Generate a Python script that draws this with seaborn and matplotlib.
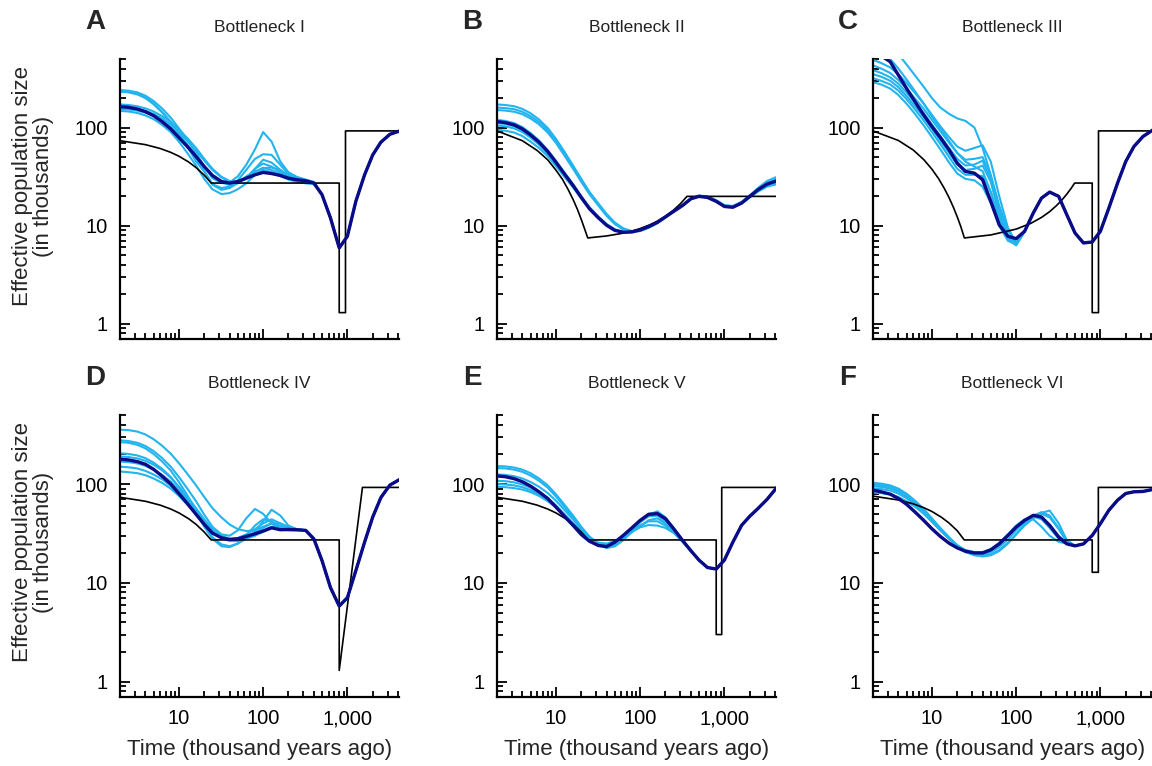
import numpy as np
import pandas as pd
import matplotlib
matplotlib.use("Agg")
import matplotlib.pyplot as plt
import seaborn as sns
from matplotlib.ticker import FixedLocator, LogLocator, NullFormatter

# ---------------- data ----------------
T = [2, 2.5, 3.2, 4, 5, 6.3, 8, 10, 12.6, 16, 20, 25, 32, 40, 50, 63, 80, 100,
     126, 160, 200, 250, 320, 400, 500, 630, 800, 1000, 1260, 1600, 2000, 2500,
     3200, 4200]

# true (simulated) histories
decl_t = [2, 4, 6, 8, 10, 13, 16, 20, 24.2]
decl_n = [73.5, 67, 61.2, 55.9, 51.1, 44.7, 39.1, 32.7, 27.2]

A_true_t = decl_t + [800, 800, 950, 950, 4200]
A_true_n = decl_n + [27.2, 1.3, 1.3, 92.5, 92.5]
B_true_t = [2, 4, 6, 8, 10, 12, 14, 16, 18, 20, 22, 23.9, 40, 60, 80, 100, 130,
            160, 200, 250, 300, 360, 4200]
B_true_n = [92.5, 73.5, 58.4, 46.9, 36.9, 29.6, 23.3, 18.5, 14.7, 11.6, 9.2, 7.5,
            7.86, 8.33, 8.82, 9.35, 10.2, 11.13, 12.5, 14.45, 16.7, 19.9, 19.9]
C_true_t = [2, 4, 6, 8, 10, 12, 14, 16, 18, 20, 22, 24.3, 50, 100, 150, 200, 250,
            300, 350, 400, 450, 495, 800, 800, 950, 950, 4200]
C_true_n = [92.5, 73.9, 59.1, 47.2, 37.7, 30.2, 24.1, 19.3, 15.4, 12.3, 9.84, 7.5,
            8.05, 9.23, 10.58, 12.14, 13.9, 15.97, 18.3, 21.0, 24.05, 27.2, 27.2,
            1.3, 1.3, 92.5, 92.5]
D_true_t = decl_t + [800, 800, 1510, 4200]
D_true_n = decl_n + [27.2, 1.3, 92.5, 92.5]
E_true_t = decl_t + [800, 800, 930, 930, 4200]
E_true_n = decl_n + [27.2, 3.0, 3.0, 92.5, 92.5]
F_true_t = decl_t + [800, 800, 946, 946, 4200]
F_true_n = [75.5, 69, 63.1, 57.7, 52.8, 46.1, 40.3, 33.7, 27.2] + [27.2, 12.8, 12.8, 92.5, 92.5]

# mean inferred histories (navy)
A_mean = [163.5, 161, 154.8, 145.4, 132.4, 115.1, 96.9, 79.1, 64.1, 50.7,
          40.1, 32.5, 28.2, 27.2, 28.2, 30.5, 33.0, 34.9, 34.0, 32.5,
          30.5, 29.4, 28.7, 27.2, 20.7, 12.0, 5.93, 7.8, 17.7, 33.0,
          52.7, 71, 85.5, 92.5]
B_mean = [115.1, 112.4, 106.4, 96.9, 84.2, 71.0, 57.0, 44.4, 33.8, 25.7,
          19.4, 14.9, 12.0, 10.1, 8.97, 8.56, 8.63, 9.04, 9.77, 10.8,
          12.3, 14.0, 16.1, 18.8, 19.9, 19.4, 17.7, 15.7, 15.4, 17.0,
          19.9, 23.2, 26.5, 28.7]
C_mean = [560, 540, 469, 343, 251, 183.8, 134.5, 102.4, 79.1, 59.3,
          43.4, 35.7, 34.3, 29.4, 17.7, 10.2, 7.8, 7.38, 8.76, 13.5,
          19.1, 22.0, 19.9, 12.9, 8.42, 6.67, 6.82, 8.76, 15.1, 27.2,
          45.1, 64.1, 81, 94.7]
D_mean = [178.6, 175.8, 169, 158.7, 141.2, 120.6, 100, 80.3, 63.5, 49.4,
          39.1, 31.9, 28.6, 27.5, 27.9, 29.5, 31.4, 33.4, 36.1, 34.5,
          34.7, 34.5, 34.0, 27.9, 16.8, 8.96, 5.83, 7.08, 13.3, 25.8,
          46.4, 73.1, 97.7, 111.6]
E_mean = [120.7, 118.8, 113.3, 105.6, 95.4, 83.5, 71.4, 58.7, 47.2, 38.2,
          30.9, 26.4, 23.9, 23.3, 25.8, 30.2, 36.1, 42.9, 49.4, 50.2,
          44.6, 35.3, 26.8, 21.2, 17.0, 14.3, 13.8, 17.0, 25.8, 38.2,
          47.2, 56.5, 69.8, 92.5]
F_mean = [86.9, 83.5, 79.1, 71.4, 62.5, 52.2, 42.9, 35.3, 29.5, 25.2,
          22.6, 20.9, 20.1, 20.1, 21.6, 24.8, 30.2, 36.7, 42.9, 48.3,
          46.4, 38.2, 29.0, 24.8, 23.7, 24.8, 30.2, 39.7, 54.3, 68.7,
          80.3, 83.5, 84.2, 88.2]

# replicate histories (light blue): early part listed; later they run under the mean
A_reps = [
    [241.5, 237.9, 228.7, 211.5, 186.8, 157.2, 126.4, 98.4, 74.9, 54.8,
     40.1, 30.5, 27.2, 27.6, 31.8, 41.7, 60, 90, 72, 45, 35, 31.5, 29.5, 28],
    [235.9, 232.3, 221.8, 203.4, 176.8, 145.4, 115.1, 87.6, 64.1, 45.1,
     35.7, 26.2, 23.2, 24.2, 27.2, 31.8, 35.7, 38.6, 39.2, 37.1, 32.5, 30.1, 28.7, 27.2],
    [232, 229, 218, 200, 173, 143, 113, 86, 66, 49,
     36, 26.5, 24.2, 25, 29, 37, 48, 53.5, 52.7, 41.7, 33.5, 30.5, 29.1, 27.6],
    [161, 159, 155, 148, 138, 124, 107, 90, 73, 58,
     46, 37, 31, 28, 27.5, 30, 38, 47, 44, 37, 32, 29.5, 28.5, 27.5],
    [148, 146, 141, 133, 122, 107, 90, 72, 55, 41,
     30, 23.5, 21, 21.5, 23.5, 27, 33, 37, 35, 32, 29.5, 28, 27, 26.5],
    [172, 170, 165, 157, 146, 131, 114, 96, 78, 62,
     48, 38, 31.5, 28.5, 28, 30, 35, 39, 37, 33.5, 31, 29.5, 28.5, 27.5],
    [155, 153, 149, 142, 132, 118, 101, 84, 67, 52,
     40, 32, 27.5, 26, 27, 31, 38, 43, 40, 35, 31.5, 29.5, 28.5, 27.5],
]
B_reps = [
    [172, 170, 165, 155, 140, 121, 99, 77, 57, 41, 30, 22, 16.5, 12.8, 10.5, 9.2, 8.7,
     8.8, 9.5, 10.6, 12.1, 13.9, 16.0, 18.8, 20.2, 19.8, 18.0, 16.0, 15.6, 16.8, 19.3,
     22.2, 25.0, 26.5],
    [160, 158, 154, 145, 131, 114, 94, 74, 55, 40, 29.5, 22, 16.8, 13.2, 10.8, 9.4, 8.8,
     8.9, 9.6, 10.7, 12.2, 14.0, 16.1, 18.9, 20.3, 19.9, 18.2, 16.2, 15.8, 17.2, 20.2,
     24.2, 28.5, 31.5],
    [151, 149, 145, 137, 124, 108, 89, 70, 52, 38, 28, 21, 16, 12.6, 10.4, 9.2, 8.7,
     8.9, 9.6, 10.7, 12.2, 14.0, 16.1, 18.8, 20.1, 19.7, 18.0, 16.1, 15.9, 17.5, 20.3,
     23.5, 26.0, 27.5],
    [120, 117, 111, 101, 88, 74, 59, 46, 35, 26.5, 20, 15.5, 12.4, 10.4, 9.2, 8.7, 8.7,
     9.1, 9.8, 10.8, 12.3, 14.0, 16.1, 18.8, 19.9, 19.5, 17.8, 15.8, 15.5, 17.0, 19.8,
     23.0, 26.3, 28.5],
    [111, 109, 103, 94, 82, 69, 56, 43.5, 33.5, 25.5, 19.5, 15.2, 12.2, 10.2, 9.1, 8.6,
     8.7, 9.1, 9.8, 10.8, 12.3, 14.0, 16.1, 18.8, 20.0, 19.6, 17.9, 16.0, 15.7, 17.2,
     20.0, 23.5, 27.2, 30.0],
    [105, 103, 98, 90, 79, 67, 54, 42.5, 33, 25, 19.2, 15, 12.1, 10.1, 9.0, 8.6, 8.7,
     9.1, 9.8, 10.8, 12.3, 14.0, 16.1, 18.8, 19.9, 19.5, 17.8, 15.9, 15.6, 17.1, 19.9,
     23.4, 26.8, 29.2],
    [95, 93, 89, 82, 72, 62, 51, 40.5, 31.5, 24.5, 19, 15, 12.1, 10.1, 9.0, 8.6, 8.7,
     9.1, 9.8, 10.8, 12.3, 14.0, 16.1, 18.7, 19.8, 19.4, 17.7, 15.8, 15.5, 17.0, 19.8,
     23.0, 26.3, 28.4],
]
C_reps = [
    [900, 780, 660, 560, 440, 340, 260, 200, 160, 138, 124, 117, 100, 62, 33, 16, 9, 6.6],
    [490, 455, 410, 350, 285, 225, 175, 135, 103, 80, 64, 58, 62, 66, 45, 20, 9.5, 6.7],
    [430, 400, 360, 305, 250, 198, 155, 120, 92, 70, 55, 47, 48, 50, 32, 15, 8, 6.5],
    [385, 360, 325, 280, 228, 180, 140, 108, 82, 62, 48, 41, 42, 46, 30, 14, 7.5, 6.4],
    [350, 330, 300, 258, 210, 165, 128, 98, 74, 55, 42, 37, 38, 41, 28, 13, 7.3, 6.3],
    [318, 300, 275, 238, 195, 153, 118, 90, 68, 50, 38, 33, 33, 32, 22, 12, 7.2, 6.4],
    [290, 275, 250, 215, 175, 138, 105, 80, 60, 44, 34, 30, 29, 25, 17, 10, 7, 6.5],
    [620, 570, 500, 400, 310, 235, 175, 130, 98, 73, 55, 45, 40, 36, 22, 11, 7.2, 6.5],
]
D_reps = [
    [355, 352, 340, 318, 285, 245, 203, 163, 127, 97, 74, 57, 46, 39, 35, 33.5, 34, 37,
     40, 40, 37, 35, 34],
    [277, 273, 262, 243, 216, 184, 150, 118, 90, 67, 49, 37, 31, 30, 34, 45, 56, 50, 40,
     35, 34, 34, 34],
    [266, 262, 250, 230, 202, 170, 137, 105, 77, 55, 39, 29, 24.5, 23.5, 25, 28, 33, 42,
     55, 48, 38, 35, 34],
    [205, 202, 195, 183, 165, 143, 118, 93, 70, 51, 37, 28, 23.5, 23, 25, 30, 38, 44, 42,
     37, 35, 34.5, 34],
    [190, 188, 182, 172, 157, 138, 116, 94, 74, 57, 44, 35, 30, 28, 28.5, 31, 35, 40, 44,
     40, 36, 35, 34],
    [169, 167, 162, 153, 140, 124, 106, 87, 69, 54, 42, 34, 29.5, 27.5, 27.5, 29, 32, 36,
     40, 38, 35, 34.5, 34],
    [150, 148, 144, 136, 125, 112, 96, 80, 65, 52, 41, 33.5, 29, 27, 27, 28.5, 31, 34, 37,
     37, 35, 34.5, 34],
    [134, 132, 129, 123, 114, 103, 90, 76, 62, 50, 40, 33, 28.5, 26.5, 26.5, 28, 30, 33,
     36, 36, 35, 34.5, 34],
]
E_reps = [
    [152, 151, 147, 140, 129, 114, 97, 79, 62, 48, 37, 29.5, 25, 23, 23.5, 27, 33, 41,
     49, 53, 46, 36, 27, 21],
    [145, 144, 140, 133, 122, 108, 92, 75, 59, 46, 36, 29, 24.5, 22.5, 23.5, 27.5, 34,
     42, 50, 51, 44, 35, 26.5, 21],
    [108, 107, 104, 99, 92, 83, 72, 61, 50, 40.5, 33, 28, 25.5, 25, 26.5, 29.5, 33, 36.5,
     38.5, 38, 36, 32, 26, 21],
    [100, 99, 97, 93, 87, 79, 69, 59, 49, 40, 33, 28, 25, 24.5, 26, 29, 33.5, 38, 42, 42,
     38, 32.5, 26, 21],
    [94, 93, 91, 88, 83, 76, 67, 58, 48.5, 40, 33, 28, 25, 24, 25, 28, 32.5, 37.5, 43, 45,
     40, 33, 26.5, 21],
    [125, 124, 120, 114, 105, 94, 81, 68, 55, 44, 35, 28.5, 24.5, 23, 24, 27.5, 33.5, 41,
     47, 48, 42, 34, 26.5, 21],
]
F_reps = [
    [103, 101, 97, 90, 80, 68, 56, 45, 36, 29, 24, 21, 19.5, 19, 19.5, 21.5, 25.5, 31,
     38, 45, 51, 54, 40, 27],
    [100, 98, 94, 87, 78, 66, 54.5, 44, 35, 28.5, 23.5, 20.5, 19, 18.5, 19, 21, 25, 31,
     39, 46, 50, 46, 35, 26],
    [95, 93.5, 90, 84, 75, 64, 53, 43, 34.5, 28, 23.5, 20.5, 19.5, 19.5, 21, 24.5, 30,
     37, 43, 47, 44, 36, 28, 25],
    [90, 89, 86, 80, 72, 62, 51.5, 42, 34, 28, 23.5, 21, 20, 20, 21.5, 25, 30.5, 37, 42,
     44, 37, 30, 26, 25],
    [82, 81, 78.5, 74, 67, 59, 50, 41.5, 34, 28, 24, 21.5, 20.5, 20.5, 22, 25.5, 31, 38,
     44, 47, 45, 39, 30, 25.5],
    [98, 96, 92, 85, 76, 65, 53.5, 43.5, 35, 28.5, 24, 21, 19.8, 19.5, 20.5, 23, 27.5,
     34, 41, 48, 52, 48, 36, 27],
]

letters = ["A", "B", "C", "D", "E", "F"]
titles = ["Bottleneck I", "Bottleneck II", "Bottleneck III",
          "Bottleneck IV", "Bottleneck V", "Bottleneck VI"]
x_tick_labels = ["10", "100", "1,000"]
y_tick_labels = ["1", "10", "100"]

panels = [
    (A_true_t, A_true_n, A_mean, A_reps),
    (B_true_t, B_true_n, B_mean, B_reps),
    (C_true_t, C_true_n, C_mean, C_reps),
    (D_true_t, D_true_n, D_mean, D_reps),
    (E_true_t, E_true_n, E_mean, E_reps),
    (F_true_t, F_true_n, F_mean, F_reps),
]

# ---------------- style ----------------
sns.set_theme(style="ticks")
plt.rcParams['font.family'] = ['Liberation Sans', 'DejaVu Sans']

LIGHT = "#22B4EE"
NAVY = "#0B0B88"

W, H = 1152, 766
fig = plt.figure(figsize=(W / 100, H / 100), dpi=100)

col_left = [120, 497, 873]
row_top = [59, 415]
row_bot = [339, 697]
ax_w = 279

for i, (tt, tn, mean, reps) in enumerate(panels):
    r, c = divmod(i, 3)
    left = col_left[c] / W
    bottom = 1 - row_bot[r] / H
    height = (row_bot[r] - row_top[r]) / H
    ax = fig.add_axes([left, bottom, ax_w / W, height])
    ax.set_xscale('log')
    ax.set_yscale('log')

    for rep in reps:
        full = list(rep) + list(mean[len(rep):])
        sns.lineplot(x=T, y=full, ax=ax, color=LIGHT, linewidth=1.5,
                     estimator=None, sort=False, zorder=2)
    sns.lineplot(x=tt, y=tn, ax=ax, color="black", linewidth=1.2,
                 estimator=None, sort=False, zorder=3)
    sns.lineplot(x=T, y=mean, ax=ax, color=NAVY, linewidth=2.4,
                 estimator=None, sort=False, zorder=4)
    for ln in ax.lines:
        ln.set_solid_joinstyle('round')
        ln.set_solid_capstyle('round')

    ax.set_xlim(2, 4100)
    ax.set_ylim(0.7, 500)
    for s in ['top', 'right']:
        ax.spines[s].set_visible(False)
    for s in ['left', 'bottom']:
        ax.spines[s].set_linewidth(1.6)
        ax.spines[s].set_color('black')

    ax.xaxis.set_major_locator(FixedLocator([10, 100, 1000]))
    ax.xaxis.set_minor_locator(LogLocator(base=10, subs=np.arange(2, 10), numticks=30))
    ax.yaxis.set_major_locator(FixedLocator([1, 10, 100]))
    ax.yaxis.set_minor_locator(LogLocator(base=10, subs=np.arange(2, 10), numticks=30))
    ax.xaxis.set_minor_formatter(NullFormatter())
    ax.yaxis.set_minor_formatter(NullFormatter())
    ax.set_yticklabels(y_tick_labels)
    if r == 1:
        ax.set_xticklabels(x_tick_labels)
    else:
        ax.set_xticklabels([])
    ax.tick_params(which='both', direction='in', width=1.3, colors='black',
                   labelsize=14.5, pad=9)
    ax.tick_params(which='major', length=7)
    ax.tick_params(which='minor', length=4)
    ax.set_xlabel('')
    ax.set_ylabel('')

    cx = (col_left[c] + ax_w / 2) / W
    fig.text(cx, 1 - (row_top[r] - 32) / H, titles[i], ha='center', va='center',
             fontsize=12.5, color='#222222')
    fig.text((col_left[c] - 25) / W, 1 - (row_top[r] - 37) / H, letters[i],
             ha='center', va='center', fontsize=20, fontweight='bold')

    if c == 0:
        fig.text(33 / W, 1 - (row_top[r] + 127) / H,
                 "Effective population size\n(in thousands)", rotation=90,
                 ha='center', va='center', fontsize=16, linespacing=1.0,
                 multialignment='center')
    if r == 1:
        fig.text(cx, 1 - 750 / H, "Time (thousand years ago)", ha='center',
                 va='center', fontsize=16)

fig.savefig("out.png", dpi=100)
